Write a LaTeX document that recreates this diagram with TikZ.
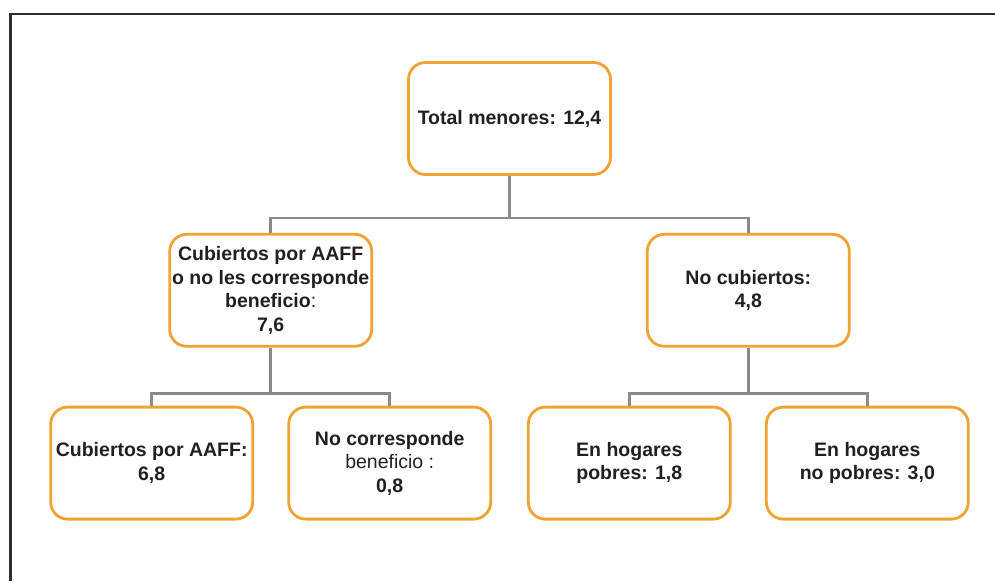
\documentclass[tikz,border=0pt]{standalone}
\usepackage{fontspec}
\setmainfont{Liberation Sans}
\usepackage{tikz}
\usetikzlibrary{positioning}

\definecolor{boxorange}{HTML}{F0A232}
\definecolor{linegray}{HTML}{8A8A8C}
\definecolor{textblack}{HTML}{231F20}
\definecolor{framegray}{HTML}{2E2E2E}

\tikzset{
    box/.style={rectangle, draw=boxorange, line width=2.8pt, rounded corners=17pt,
        minimum width=202pt, minimum height=112pt, inner sep=0pt, align=center,
        text=textblack, font=\fontsize{19.5}{23.5}\selectfont\bfseries},
    conn/.style={draw=linegray, line width=2.6pt}
}

\begin{document}
\begin{tikzpicture}
        \useasboundingbox (0,0) rectangle (995pt,-581pt);
        \draw[framegray, line width=2.8pt] (10.5pt,-581pt) -- (10.5pt,-14pt) -- (995pt,-14pt);

        \node[box](total) at (509.5pt,-118.5pt){Total menores: 12,4};
        \node[box](cubOno)[below left = 57pt and 34pt of total]{Cubiertos por AAFF\\o no les corresponde\\beneficio{\mdseries:}\\7,6};
        \node[box](nocub)[below right = 57pt and 34pt of total]{No cubiertos:\\4,8};
        \node[box](cub)[below = 58pt of cubOno, xshift=-119pt]{Cubiertos por AAFF:\\6,8};
        \node[box](nocorr)[below = 58pt of cubOno, xshift=119pt]{No corresponde\\{\mdseries beneficio :}\\0,8};
        \node[box](pobres)[below = 58pt of nocub, xshift=-119pt]{En hogares\\pobres: 1,8};
        \node[box](nopobres)[below = 58pt of nocub, xshift=119pt]{En hogares\\no pobres: 3,0};

        \draw[conn] (total.south) -- ++(0,-42pt) -| (cubOno.north);
        \draw[conn] (total.south) -- ++(0,-42pt) -| (nocub.north);
        \draw[conn] (cubOno.south) -- ++(0,-45.5pt) -| (cub.north);
        \draw[conn] (cubOno.south) -- ++(0,-45.5pt) -| (nocorr.north);
        \draw[conn] (nocub.south) -- ++(0,-45.5pt) -| (pobres.north);
        \draw[conn] (nocub.south) -- ++(0,-45.5pt) -| (nopobres.north);
    \end{tikzpicture}
\end{document}
